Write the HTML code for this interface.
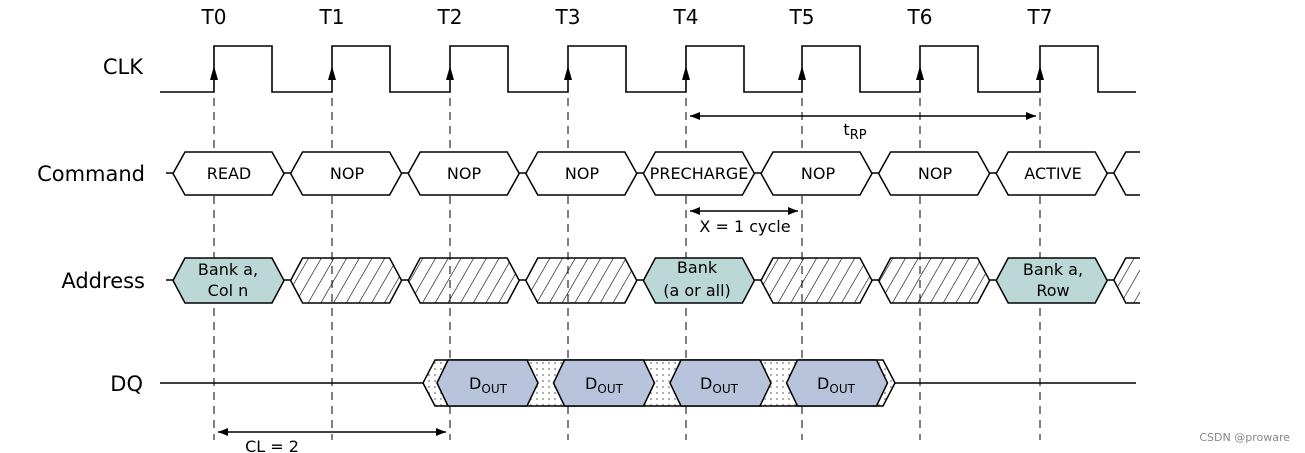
<!DOCTYPE html>
<html><head><meta charset="utf-8"><style>
html,body{margin:0;padding:0;background:#fff;}
svg{display:block;font-family:"DejaVu Sans","Liberation Sans",sans-serif;}
</style></head><body>
<svg id="s" width="1305" height="453" viewBox="0 0 1305 453" xmlns="http://www.w3.org/2000/svg">
<defs>
<pattern id="hatch" width="11" height="11" patternUnits="userSpaceOnUse" patternTransform="rotate(30)">
<line x1="0" y1="0" x2="0" y2="11" stroke="#000" stroke-width="1.2"/>
</pattern>
<pattern id="dots" width="6" height="6" patternUnits="userSpaceOnUse">
<rect width="6" height="6" fill="#fff"/><circle cx="3" cy="3" r="1" fill="#999"/>
</pattern>
<marker id="ah" markerWidth="10" markerHeight="8" refX="10" refY="4" orient="auto-start-reverse" markerUnits="userSpaceOnUse">
<path d="M0,0 L10,4 L0,8 z" fill="#000"/></marker>
</defs>
<g id="g"></g>
<g font-size="20" text-anchor="middle" fill="#000">
<text x="214" y="24">T0</text><text x="332" y="24">T1</text><text x="450" y="24">T2</text><text x="568" y="24">T3</text>
<text x="686" y="24">T4</text><text x="802" y="24">T5</text><text x="920" y="24">T6</text><text x="1040" y="24">T7</text>
</g>
<g font-size="21" text-anchor="end">
<text x="143" y="74">CLK</text><text x="145" y="181">Command</text><text x="145" y="288">Address</text><text x="143" y="391">DQ</text>
</g>
<g font-size="16" text-anchor="middle">
<text x="229" y="179">READ</text><text x="347" y="179">NOP</text><text x="464" y="179">NOP</text><text x="582" y="179">NOP</text>
<text x="699" y="179">PRECHARGE</text><text x="818" y="179">NOP</text><text x="935" y="179">NOP</text><text x="1053" y="179">ACTIVE</text>
<text x="228" y="275">Bank a,</text><text x="228" y="296">Col n</text>
<text x="697" y="273">Bank</text><text x="697" y="296">(a or all)</text>
<text x="1053" y="275">Bank a,</text><text x="1053" y="296">Row</text>
<text x="745" y="232">X = 1 cycle</text>
<text x="272" y="452">CL = 2</text>
<text x="855" y="135">t<tspan font-size="13" dy="4">RP</tspan></text>
<text x="488" y="389">D<tspan font-size="12" dy="4">OUT</tspan></text>
<text x="604" y="389">D<tspan font-size="12" dy="4">OUT</tspan></text>
<text x="719" y="389">D<tspan font-size="12" dy="4">OUT</tspan></text>
<text x="836" y="389">D<tspan font-size="12" dy="4">OUT</tspan></text>
</g>
<text x="1290" y="441" font-size="11" fill="#888" text-anchor="end">CSDN @proware</text>
</svg>
<script>
var g=document.getElementById('g'),NS='http://www.w3.org/2000/svg';
function el(t,a){var e=document.createElementNS(NS,t);for(var k in a)e.setAttribute(k,a[k]);g.appendChild(e);return e;}
var E=[214,332,450,568,686,802,920,1040];
// dashed lines
E.forEach(function(x){el('line',{x1:x,y1:98,x2:x,y2:440,stroke:'#000','stroke-width':1,'stroke-dasharray':'8,6'});});
// clock
var d='M160,92';E.forEach(function(x){d+=' L'+x+',92 L'+x+',46 L'+(x+58)+',46 L'+(x+58)+',92';});d+=' L1136,92';
el('path',{d:d,fill:'none',stroke:'#000','stroke-width':1.6});
E.forEach(function(x){el('path',{d:'M'+(x-4)+',80 L'+x+',66 L'+(x+4)+',80 z',fill:'#000'});});
// bus boxes
function hex(x,w,yt,yb,s){var ym=(yt+yb)/2;return (x)+','+ym+' '+(x+s)+','+yt+' '+(x+w-s)+','+yt+' '+(x+w)+','+ym+' '+(x+w-s)+','+yb+' '+(x+s)+','+yb;}
var fillsA=['#bcd8d6','h','h','h','#bcd8d6','h','h','#bcd8d6','h'];
for(var k=0;k<9;k++){
 var x=173+117.6*k,w=111;
 var clipw=Math.min(w,1140-x);
 el('line',{x1:x-7,y1:173,x2:x,y2:173,stroke:'#000','stroke-width':1.5});
 el('line',{x1:x-7,y1:280,x2:x,y2:280,stroke:'#000','stroke-width':1.5});
 if(k<8){el('polygon',{points:hex(x,w,152,195,12),fill:'#fff',stroke:'#000','stroke-width':1.5});}
 else{el('path',{d:'M1140,152 L'+(x+12)+',152 L'+x+',173 L'+(x+12)+',195 L1140,195',fill:'none',stroke:'#000','stroke-width':1.5});}
 var f=fillsA[k]=='h'?'url(#hatch)':fillsA[k];
 if(k<8){el('polygon',{points:hex(x,w,258,303,12),fill:f,stroke:'#000','stroke-width':1.5});}
 else{el('path',{d:'M1140,258 L'+(x+12)+',258 L'+x+',280 L'+(x+12)+',303 L1140,303',fill:f,stroke:'#000','stroke-width':1.5});}
}
// DQ
el('line',{x1:160,y1:383,x2:423,y2:383,stroke:'#000','stroke-width':1.5});
el('line',{x1:895,y1:383,x2:1136,y2:383,stroke:'#000','stroke-width':1.5});
el('polygon',{points:hex(423,472,360,406,12),fill:'url(#dots)',stroke:'#000','stroke-width':1.5});
for(var k=0;k<4;k++){var x=437+116.5*k;el('polygon',{points:hex(x,101,360,406,11),fill:'#b8c4dc',stroke:'#000','stroke-width':1.5});}
// arrows
function arr(x1,x2,y){el('line',{x1:x1,y1:y,x2:x2,y2:y,stroke:'#000','stroke-width':1.5,'marker-start':'url(#ah)','marker-end':'url(#ah)'});}
arr(690,1036,116);arr(690,798,211);arr(218,446,432);
</script>
</body></html>
